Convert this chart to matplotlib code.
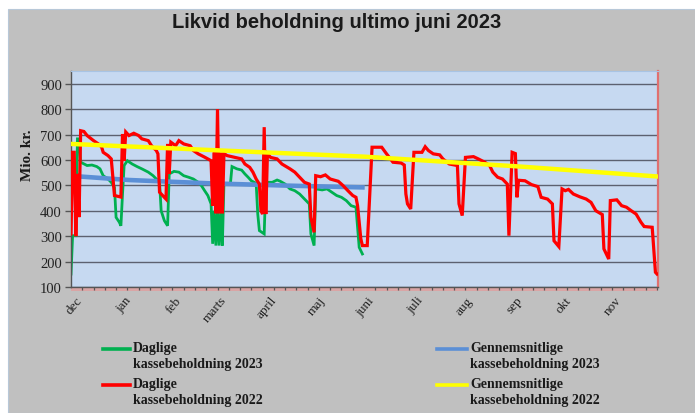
import matplotlib
matplotlib.use("Agg")
import matplotlib.pyplot as plt
from matplotlib.patches import Rectangle
from matplotlib.lines import Line2D
from matplotlib.ticker import MultipleLocator
import matplotlib.transforms as mtransforms

# ---------------- data ----------------
title = "Likvid beholdning ultimo juni 2023"
ylabel = "Mio. kr."
months = ["dec", "jan", "feb", "marts", "april", "maj", "juni",
          "juli", "aug", "sep", "okt", "nov"]
month_start_day = [0, 31, 62, 90, 121, 151, 182, 212, 243, 274, 304, 335]
yticks = [100, 200, 300, 400, 500, 600, 700, 800, 900]

# Daglige kassebeholdning 2022 (day index from 1 Dec, value in mio. kr.)
days_2022 = [0, 1, 2, 3, 4, 5, 6, 8, 10, 14,
             17, 19, 20, 23, 25, 26, 27, 31, 32, 33,
             34, 36, 39, 42, 44, 48, 50, 53, 54, 55,
             59, 60, 61, 62, 65, 67, 70, 74, 76, 79,
             83, 87, 88, 89, 90, 91, 92, 93, 94, 95,
             97, 102, 106, 108, 111, 113, 115, 117, 118, 119,
             120, 121, 122, 124, 128, 131, 136, 139, 142, 145,
             148, 149, 151, 152, 155, 158, 161, 166, 169, 172,
             175, 177, 178, 180, 181, 184, 187, 193, 196, 200,
             205, 207, 208, 209, 211, 213, 218, 220, 222, 225,
             229, 231, 235, 240, 241, 243, 245, 250, 253, 257,
             260, 262, 265, 268, 271, 272, 274, 276, 277, 278,
             282, 286, 290, 292, 296, 299, 300, 303, 305, 307,
             309, 312, 316, 320, 323, 326, 330, 331, 334, 335,
             339, 342, 345, 348, 351, 354, 356, 361, 363, 364]
kasse_2022 = [309, 630, 630, 300, 545, 375, 715, 712, 696, 676,
              663, 651, 630, 617, 604, 533, 460, 454, 702, 597,
              710, 696, 705, 696, 683, 676, 656, 637, 624, 473,
              446, 663, 545, 670, 656, 676, 663, 656, 637, 624,
              611, 597, 420, 630, 390, 800, 390, 630, 390, 625,
              617, 610, 604, 584, 571, 552, 525, 505, 400, 387,
              729, 387, 624, 610, 604, 584, 565, 552, 532, 512,
              505, 374, 315, 538, 534, 541, 525, 516, 499, 479,
              460, 453, 420, 290, 263, 263, 650, 650, 624, 591,
              588, 580, 466, 427, 407, 630, 630, 652, 637, 624,
              620, 604, 584, 578, 427, 381, 610, 613, 604, 591,
              578, 552, 532, 525, 505, 302, 630, 625, 453, 520,
              518, 503, 495, 453, 446, 427, 282, 259, 486, 479,
              484, 466, 455, 446, 433, 400, 385, 250, 210, 440,
              443, 420, 414, 400, 387, 355, 338, 335, 158, 151]

# Daglige kassebeholdning 2023
days_2023 = [0, 1, 3, 4, 5, 6, 10, 13, 16, 18,
             20, 23, 25, 27, 28, 30, 31, 32, 33, 35,
             38, 41, 44, 48, 51, 53, 55, 56, 58, 60,
             61, 64, 67, 70, 73, 76, 79, 81, 83, 85,
             87, 88, 89, 90, 91, 92, 93, 94, 95, 99,
             100, 103, 106, 108, 110, 112, 115, 116, 117, 120,
             121, 125, 128, 130, 133, 136, 139, 142, 144, 146,
             148, 149, 151, 152, 156, 159, 162, 165, 168, 171,
             174, 177, 179, 181]
kasse_2023 = [151, 302, 302, 683, 683, 591, 578, 580, 574, 565,
              538, 525, 512, 492, 374, 355, 341, 466, 578, 597,
              584, 574, 565, 552, 538, 525, 512, 400, 361, 341,
              545, 555, 552, 538, 532, 525, 512, 499, 479, 460,
              427, 270, 400, 263, 400, 263, 400, 263, 505, 505,
              574, 565, 560, 545, 532, 518, 508, 387, 322, 309,
              512, 512, 521, 516, 505, 486, 479, 466, 453, 440,
              427, 309, 263, 486, 482, 486, 473, 460, 453, 440,
              420, 414, 256, 230]

# Gennemsnitlige kassebeholdning 2023 / 2022
avg_days_2023 = [3, 36, 86, 134, 181]
avg_2023 = [536, 521, 508, 499, 492]
avg_days_2022 = [0, 94, 182, 279, 364]
avg_2022 = [663, 637, 613, 574, 535]

series_labels = ["Daglige\nkassebeholdning 2023",
                 "Gennemsnitlige\nkassebeholdning 2023",
                 "Daglige\nkassebeholdning 2022",
                 "Gennemsnitlige\nkassebeholdning 2022"]

# ---------------- style ----------------
C_GREEN = "#00B050"
C_BLUE = "#5B8FD6"
C_RED = "#FF0000"
C_YELLOW = "#FFFF00"
C_PLOT = "#C6D9F1"
C_PANEL = "#C0C0C0"
C_GRID = "#5C6170"
SERIF = ["Liberation Serif", "DejaVu Serif"]
SANS = ["Liberation Sans", "DejaVu Sans"]

W, H = 695, 414
fig = plt.figure(figsize=(W / 100, H / 100), dpi=100)
fig.patch.set_facecolor("white")
fig.patches.append(Rectangle((8 / W, 0), 1 - 8 / W, 1 - 10 / H,
                             transform=fig.transFigure, facecolor=C_PANEL,
                             edgecolor="#B8C8D8", linewidth=0.8, zorder=-10))

ax = fig.add_axes([71 / W, 1 - 288 / H, 587 / W, 216 / H])
ax.set_facecolor(C_PLOT)

ax.plot(days_2023, kasse_2023, color=C_GREEN, lw=2.0, zorder=2,
        solid_joinstyle="miter")
ax.plot(avg_days_2023, avg_2023, color=C_BLUE, lw=3.3, zorder=3)
ax.plot(days_2022, kasse_2022, color=C_RED, lw=2.3, zorder=4,
        solid_joinstyle="miter")
ax.plot(avg_days_2022, avg_2022, color=C_YELLOW, lw=3.2, zorder=5)

ax.set_xlim(0, 364.6)
ax.set_ylim(100, 950)
ax.set_yticks(yticks)
ax.yaxis.grid(True, color=C_GRID, lw=1.0)
ax.set_axisbelow(True)

ax.set_xticks(month_start_day)
ax.set_xticklabels(months, rotation=50, ha="right", va="top",
                   rotation_mode="anchor", fontfamily=SERIF, fontsize=9.5,
                   color="#222222")
ax.xaxis.set_minor_locator(MultipleLocator(7))
ax.tick_params(axis="x", which="major", length=0, pad=5)
ax.tick_params(axis="x", which="minor", length=2.5, width=0.9,
               color="#555555", direction="out")
offset = mtransforms.ScaledTranslation(4 / 100, 0, fig.dpi_scale_trans)
for lab in ax.get_xticklabels():
    lab.set_transform(lab.get_transform() + offset)

ax.tick_params(axis="y", length=4.5, width=1, color="#555555", pad=2,
               labelsize=10.5, labelcolor="#222222")
for lab in ax.get_yticklabels():
    lab.set_fontfamily(SERIF)

for s in ("left", "bottom"):
    ax.spines[s].set_color("#555555")
    ax.spines[s].set_linewidth(1.0)
ax.spines["top"].set_color("#A8C4E4")
ax.spines["top"].set_linewidth(0.8)
ax.spines["right"].set_color("#E07070")
ax.spines["right"].set_linewidth(1.6)

# pinkish band under the category axis
ax.add_patch(Rectangle((0, -4 / 216), 1, 4 / 216, transform=ax.transAxes,
                       facecolor="#D9A5A5", edgecolor="none", clip_on=False,
                       zorder=0.5))

fig.text(337 / W, 1 - 23 / H, title, ha="center", va="center",
         fontsize=14.5, fontweight="bold", fontfamily=SANS, color="#1a1a1a")
fig.text(28 / W, 1 - 155 / H, ylabel, rotation=90, ha="center", va="center",
         fontsize=11, fontweight="bold", fontfamily=SERIF, color="#1a1a1a")

# legend (two columns, key aligned with the first text line)
leg_colors = [C_GREEN, C_BLUE, C_RED, C_YELLOW]
leg_cols_x = [(103, 130, 133), (437, 467, 470)]
leg_rows_y = [350, 386]
for i, (lab, col) in enumerate(zip(series_labels, leg_colors)):
    r, c = divmod(i, 2)
    x0, x1, xt = leg_cols_x[c]
    y = leg_rows_y[r]
    fig.add_artist(Line2D([x0 / W, x1 / W], [1 - y / H, 1 - y / H],
                          transform=fig.transFigure, color=col, lw=2.6))
    fig.text(xt / W, 1 - (y - 7.5) / H, lab, ha="left", va="top",
             fontsize=10, fontweight="bold", fontfamily=SERIF,
             color="#1a1a1a", linespacing=1.22)

fig.savefig("out.png", dpi=100, facecolor=fig.get_facecolor())
